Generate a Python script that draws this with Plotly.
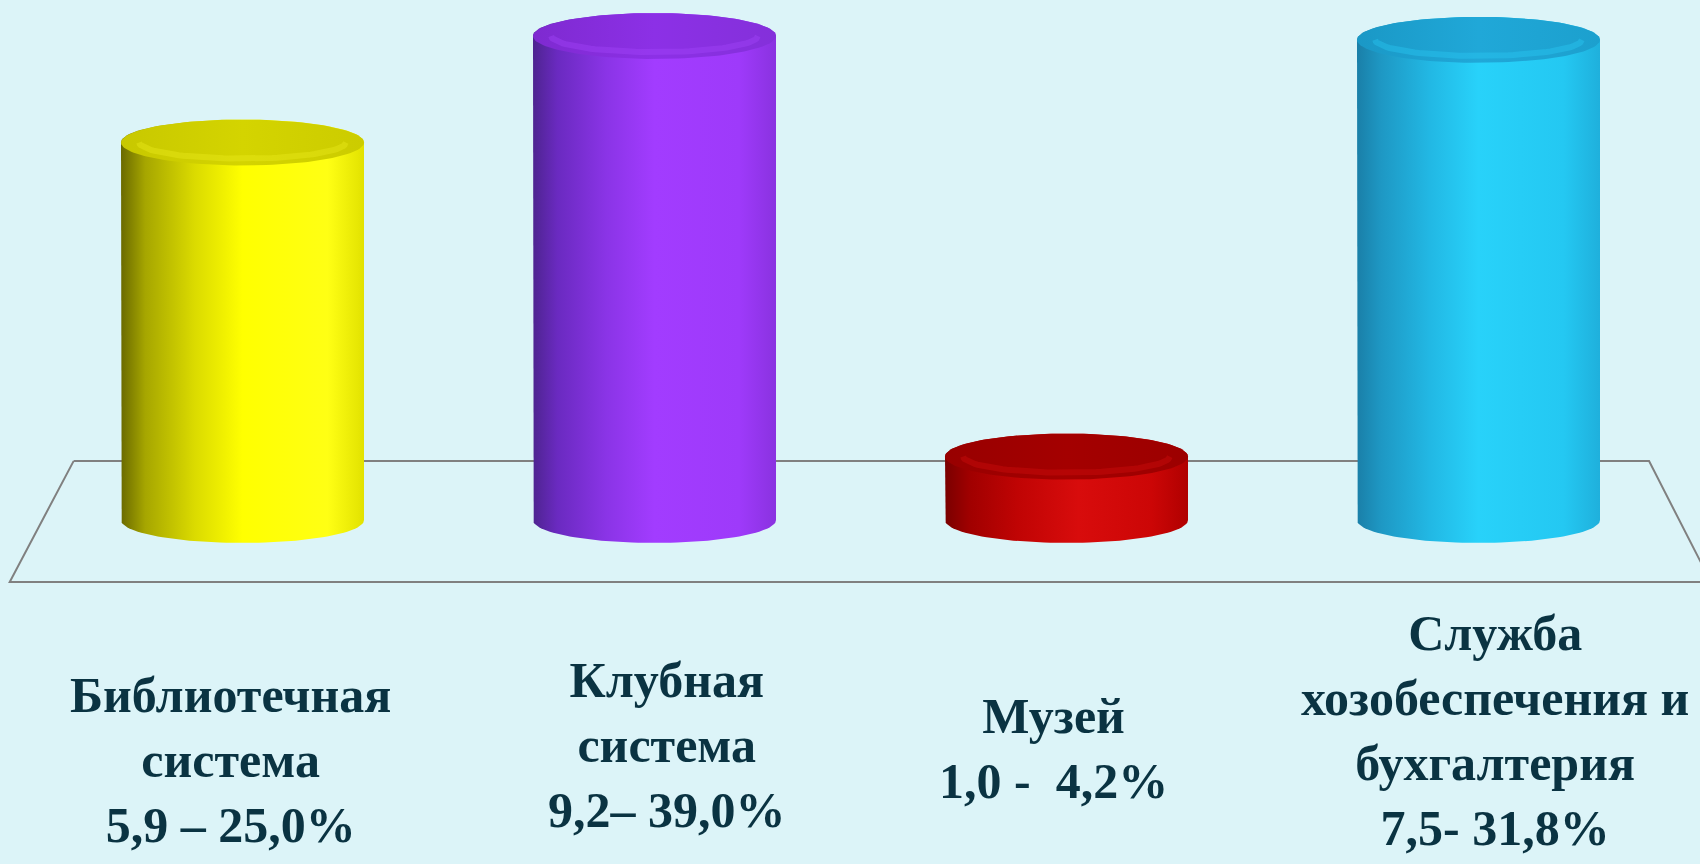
import numpy as np
import plotly.graph_objects as go

# ---------------- data ----------------
categories = ["Библиотечная<br>система", "Клубная<br>система", "Музей",
              "Служба<br>хозобеспечения и<br>бухгалтерия"]
amounts = [5.9, 9.2, 1.0, 7.5]          # млн руб.
percents = [25.0, 39.0, 4.2, 31.8]      # %
value_labels = ["5,9 – 25,0%", "9,2– 39,0%", "1,0 -\u00a0 4,2%", "7,5- 31,8%"]

# ---------------- style ----------------
BG = "#DCF4F8"
TEXT = "#0A3342"
PX_PER_UNIT = 15.1
BASE_PX = 520
Y_MAX = (BASE_PX - 36) / PX_PER_UNIT   # value axis maximum (taller bars are clipped to it)
X0_PX, STEP_PX = 242.5, 412
W, H = 1700, 864
HALF_W = 121.5 / STEP_PX
RY = 23 / PX_PER_UNIT

body_scales = [
    [[0, "#6A6A00"], [0.1, "#A6A600"], [0.3, "#DADA00"], [0.5, "#FFFF00"], [0.85, "#FFFF14"], [1, "#E2E200"]],
    [[0, "#4E2490"], [0.1, "#6A2AC0"], [0.3, "#8A34E6"], [0.5, "#A23CFF"], [0.85, "#9E3AFA"], [1, "#8A32E0"]],
    [[0, "#7A0000"], [0.1, "#A00000"], [0.3, "#C00404"], [0.55, "#D80C0C"], [0.85, "#CC0606"], [1, "#B00000"]],
    [[0, "#1A7FA8"], [0.1, "#1E98C4"], [0.3, "#22B8E4"], [0.5, "#28D2FA"], [0.85, "#24C8F2"], [1, "#1FB0DC"]],
]
top_scales = [
    [[0, "#C8C800"], [0.5, "#D4D400"], [1, "#CCCC00"]],
    [[0, "#7E2AD0"], [0.5, "#8C30E6"], [1, "#8430DA"]],
    [[0, "#980000"], [0.5, "#A40000"], [1, "#9C0000"]],
    [[0, "#1A98C6"], [0.5, "#20A8D8"], [1, "#1CA0CE"]],
]
rim_colors = ["#F0F020", "#A848FF", "#D81010", "#2CD0FA"]

fig = go.Figure()

# floor
floor_x = [-0.41, 3.414, 3.564, -0.565, -0.41]
floor_y = [3.9, 3.9, -4.1, -4.1, 3.9]
fig.add_trace(go.Scatter(x=floor_x, y=floor_y, mode="lines",
                         line=dict(color="#808080", width=2), hoverinfo="skip"))

t = np.linspace(0, np.pi, 60)
for i, v in enumerate(percents):
    top = min(v, Y_MAX)
    xc = i
    # body: left side down, front bottom arc, right side up, back top arc
    bx = np.concatenate([[xc - HALF_W], xc - HALF_W * np.cos(t), [xc + HALF_W], xc + HALF_W * np.cos(t)])
    by = np.concatenate([[top], 0 - RY * np.sin(t), [top], top + RY * np.sin(t)])
    fig.add_trace(go.Scatter(x=bx, y=by, mode="lines", line=dict(width=0), fill="toself",
                             fillgradient=dict(type="horizontal", colorscale=body_scales[i]),
                             hoverinfo="skip"))
    # top face
    tt = np.linspace(0, 2 * np.pi, 120)
    tx = xc + HALF_W * np.cos(tt)
    ty = top + RY * np.sin(tt)
    fig.add_trace(go.Scatter(x=tx, y=ty, mode="lines", line=dict(width=0), fill="toself",
                             fillgradient=dict(type="horizontal", colorscale=top_scales[i]),
                             hoverinfo="skip"))
    # soft front rim highlight
    rx = xc + 0.85 * HALF_W * np.cos(t)
    ry = top - 0.7 * RY * np.sin(t)
    fig.add_trace(go.Scatter(x=rx, y=ry, mode="lines", line=dict(width=6, color=rim_colors[i]),
                             opacity=0.35, hoverinfo="skip"))

# labels
label_y_px = [760, 745, 748, 730]
label_xshift = [-12, 12, -13, 16]
for i, (c, lab) in enumerate(zip(categories, value_labels)):
    fig.add_annotation(x=i, xref="x", y=1 - label_y_px[i] / H, yref="paper",
                       text=f"<b>{c}<br>{lab}</b>", showarrow=False,
                       xanchor="center", yanchor="middle", xshift=label_xshift[i],
                       font=dict(family="Liberation Serif, Times New Roman, serif", size=50, color=TEXT),
                       align="center")

x_range = [-X0_PX / STEP_PX, (W - X0_PX) / STEP_PX]
y_range = [-(H - BASE_PX) / PX_PER_UNIT, BASE_PX / PX_PER_UNIT]
fig.update_layout(width=W, height=H, margin=dict(l=0, r=0, t=0, b=0),
                  paper_bgcolor=BG, plot_bgcolor=BG, showlegend=False,
                  xaxis=dict(range=x_range, visible=False, fixedrange=True),
                  yaxis=dict(range=y_range, visible=False, fixedrange=True))

fig.write_html("out.html", config={"displayModeBar": False},
               post_script="document.body.style.margin='0';document.body.style.overflow='hidden';")
